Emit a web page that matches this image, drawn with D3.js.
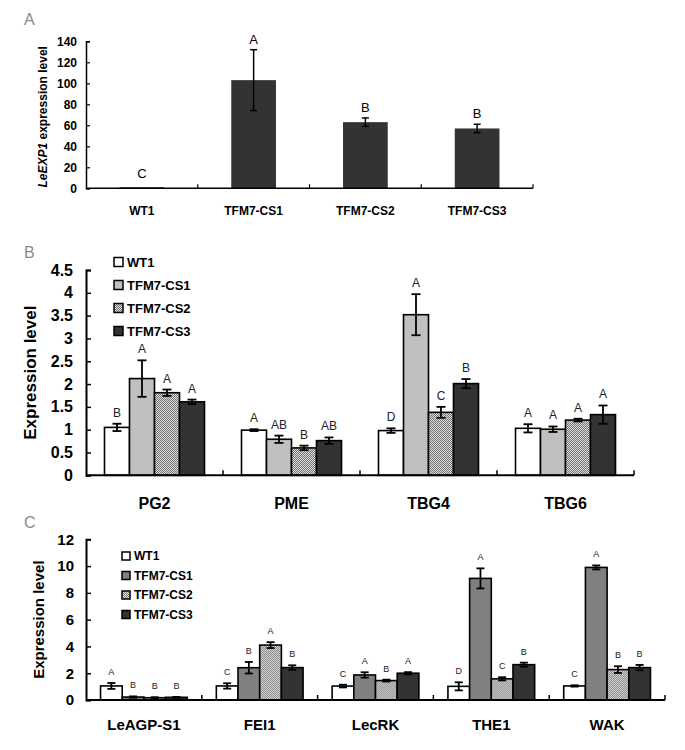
<!DOCTYPE html>
<html><head><meta charset="utf-8">
<script src="https://cdn.jsdelivr.net/npm/d3@7"></script>
<style>
body{margin:0;background:#fff;}
svg{display:block;font-family:"Liberation Sans",Arial,sans-serif;}
</style></head>
<body>
<svg id="chart" width="685" height="750"></svg>
<script>
// ---------- DATA ----------
const seriesNames = ["WT1", "TFM7-CS1", "TFM7-CS2", "TFM7-CS3"];

// Panel A
const catsA = ["WT1", "TFM7-CS1", "TFM7-CS2", "TFM7-CS3"];
const valsA = [1, 103, 63, 57];
const errA = [0.3, 29, 4, 4];
const lettersA = ["C", "A", "B", "B"];
const yTicksA = [0, 20, 40, 60, 80, 100, 120, 140];

// Panel B
const genesB = ["PG2", "PME", "TBG4", "TBG6"];
const valsB = [
  [1.05, 2.12, 1.81, 1.61],
  [0.99, 0.79, 0.60, 0.76],
  [0.98, 3.52, 1.38, 2.01],
  [1.03, 1.01, 1.21, 1.33]
];
const errB = [
  [0.08, 0.40, 0.07, 0.05],
  [0.02, 0.08, 0.05, 0.07],
  [0.05, 0.45, 0.12, 0.10],
  [0.09, 0.06, 0.03, 0.20]
];
const lettersB = [
  ["B", "A", "A", "A"],
  ["A", "AB", "B", "AB"],
  ["D", "A", "C", "B"],
  ["A", "A", "A", "A"]
];
const yTicksB = [0, 0.5, 1, 1.5, 2, 2.5, 3, 3.5, 4, 4.5];
const yTickLabelsB = ["0", "0.5", "1", "1.5", "2", "2.5", "3", "3.5", "4", "4.5"];

// Panel C
const genesC = ["LeAGP-S1", "FEI1", "LecRK", "THE1", "WAK"];
const valsC = [
  [1.05, 0.22, 0.17, 0.20],
  [1.05, 2.41, 4.10, 2.42],
  [1.04, 1.87, 1.45, 2.00],
  [1.02, 9.08, 1.58, 2.64],
  [1.05, 9.90, 2.27, 2.42]
];
const errC = [
  [0.22, 0.05, 0.04, 0.03],
  [0.20, 0.43, 0.22, 0.17],
  [0.10, 0.20, 0.07, 0.08],
  [0.30, 0.75, 0.12, 0.15],
  [0.05, 0.15, 0.25, 0.20]
];
const lettersC = [
  ["A", "B", "B", "B"],
  ["C", "B", "A", "B"],
  ["C", "A", "B", "A"],
  ["D", "A", "C", "B"],
  ["C", "A", "B", "B"]
];
const yTicksC = [0, 2, 4, 6, 8, 10, 12];

// ---------- DRAW ----------
const svg = d3.select("#chart");
const defs = svg.append("defs");
function makePattern(id, light, dark) {
  const p = defs.append("pattern").attr("id", id).attr("width", 2).attr("height", 2)
    .attr("patternUnits", "userSpaceOnUse");
  p.append("rect").attr("width", 2).attr("height", 2).attr("fill", light);
  p.append("rect").attr("x", 0).attr("y", 0).attr("width", 1).attr("height", 1).attr("fill", dark);
  p.append("rect").attr("x", 1).attr("y", 1).attr("width", 1).attr("height", 1).attr("fill", dark);
}
makePattern("hatchB", "#e2e2e2", "#6e6e6e");
makePattern("hatchC", "#e4e4e4", "#7a7a7a");

const fillsB = ["#ffffff", "#c0c0c0", "url(#hatchB)", "#333333"];
const fillsC = ["#ffffff", "#808080", "url(#hatchC)", "#333333"];

function panelLabel(t, x, y) {
  svg.append("text").attr("x", x).attr("y", y).text(t)
    .attr("font-size", 16).attr("fill", "#8a8a8a");
}

// ===== Panel A =====
(function () {
  const x0 = 86, x1 = 533, yb = 188.3, yt = 41.3;
  const g = svg.append("g");
  const x = d3.scaleBand().domain(catsA).range([x0, x1]).paddingInner(0.6).paddingOuter(0.3);
  const xc = d3.scaleBand().domain(catsA).range([x0, x1]);
  const y = d3.scaleLinear().domain([0, 140]).range([yb, yt]);

  g.selectAll("rect.bar").data(catsA).join("rect")
    .attr("x", d => x(d)).attr("width", x.bandwidth())
    .attr("y", (d, i) => y(valsA[i])).attr("height", (d, i) => yb - y(valsA[i]))
    .attr("fill", "#333");

  catsA.forEach((c, i) => {
    const cx = x(c) + x.bandwidth() / 2;
    if (errA[i] > 1) {
      const t = y(valsA[i] + errA[i]), b = y(valsA[i] - errA[i]);
      g.append("line").attr("x1", cx).attr("x2", cx).attr("y1", t).attr("y2", b).attr("stroke", "#000").attr("stroke-width", 1.5);
      g.append("line").attr("x1", cx - 3.5).attr("x2", cx + 3.5).attr("y1", t).attr("y2", t).attr("stroke", "#000").attr("stroke-width", 1.5);
      g.append("line").attr("x1", cx - 3.5).attr("x2", cx + 3.5).attr("y1", b).attr("y2", b).attr("stroke", "#000").attr("stroke-width", 1.5);
    }
    const top = y(valsA[i] + errA[i]);
    g.append("text").attr("x", cx).attr("y", top - (errA[i] > 1 ? 6 : 9)).attr("text-anchor", "middle")
      .attr("font-size", 13).text(lettersA[i]);
    g.append("text").attr("x", cx).attr("y", 215).attr("text-anchor", "middle")
      .attr("font-size", 12).attr("font-weight", "bold").text(c);
  });

  const ya = g.append("g").attr("transform", `translate(${x0},0)`)
    .call(d3.axisLeft(y).tickValues(yTicksA).tickSize(-4).tickPadding(9));
  ya.select(".domain").attr("stroke", "#000").attr("stroke-width", 1.5);
  ya.selectAll(".tick line").attr("stroke", "#000").attr("stroke-width", 1.2);
  ya.selectAll(".tick text").attr("font-size", 12).attr("font-weight", "bold").attr("font-family", "Liberation Sans, Arial").attr("fill", "#000");
  g.append("line").attr("x1", x0).attr("x2", x1).attr("y1", yb).attr("y2", yb).attr("stroke", "#000").attr("stroke-width", 1.5);
  catsA.forEach(c => {
    const tx = xc(c) + xc.bandwidth();
    g.append("line").attr("x1", tx).attr("x2", tx).attr("y1", yb).attr("y2", yb - 4).attr("stroke", "#000").attr("stroke-width", 1.2);
  });
  const yt2 = g.append("text").attr("transform", `translate(47,${(yb + yt) / 2 + 2}) rotate(-90)`)
    .attr("text-anchor", "middle").attr("font-size", 12).attr("font-weight", "bold");
  yt2.append("tspan").attr("font-style", "italic").text("LeEXP1");
  yt2.append("tspan").text(" expression level");
  panelLabel("A", 24, 25);
})();

// ===== Grouped panels =====
function groupedPanel(opt) {
  const { genes, vals, errs, letters, x0, x1, yb, yt, ymax, ticks, tickLabels, fills,
    po, tickFont, tickPad, xLabFont, xLabY, titleFont, titleX, letterFont, letterOff, cap, legend } = opt;
  const g = svg.append("g");
  const x = d3.scaleBand().domain(genes).range([x0, x1]);
  const xs = d3.scaleBand().domain(seriesNames).range([0, x.bandwidth()]).paddingInner(0).paddingOuter(po);
  const y = d3.scaleLinear().domain([0, ymax]).range([yb, yt]);

  genes.forEach((gene, gi) => {
    const gg = g.append("g").attr("transform", `translate(${x(gene)},0)`);
    gg.selectAll("rect").data(seriesNames).join("rect")
      .attr("x", d => xs(d)).attr("width", xs.bandwidth())
      .attr("y", (d, i) => y(vals[gi][i])).attr("height", (d, i) => yb - y(vals[gi][i]))
      .attr("fill", (d, i) => fills[i]).attr("stroke", "#000").attr("stroke-width", 1.6);
    seriesNames.forEach((s, i) => {
      const cx = xs(s) + xs.bandwidth() / 2;
      const t = y(vals[gi][i] + errs[gi][i]), b = y(vals[gi][i] - errs[gi][i]);
      gg.append("line").attr("x1", cx).attr("x2", cx).attr("y1", t).attr("y2", b).attr("stroke", "#000").attr("stroke-width", 1.8);
      gg.append("line").attr("x1", cx - cap).attr("x2", cx + cap).attr("y1", t).attr("y2", t).attr("stroke", "#000").attr("stroke-width", 1.8);
      gg.append("line").attr("x1", cx - cap).attr("x2", cx + cap).attr("y1", b).attr("y2", b).attr("stroke", "#000").attr("stroke-width", 1.8);
      gg.append("text").attr("x", cx).attr("y", t - letterOff).attr("text-anchor", "middle")
        .attr("font-size", letterFont).attr("fill", "#222").text(letters[gi][i]);
    });
    g.append("text").attr("x", x(gene) + x.bandwidth() / 2).attr("y", xLabY).attr("text-anchor", "middle")
      .attr("font-size", xLabFont).attr("font-weight", "bold").text(gene);
  });

  const ya = g.append("g").attr("transform", `translate(${x0},0)`)
    .call(d3.axisLeft(y).tickValues(ticks).tickFormat((d, i) => tickLabels ? tickLabels[i] : d).tickSize(-5).tickPadding(tickPad));
  ya.select(".domain").attr("stroke", "#000").attr("stroke-width", 2);
  ya.selectAll(".tick line").attr("stroke", "#000").attr("stroke-width", 1.5);
  ya.selectAll(".tick text").attr("font-size", tickFont).attr("font-weight", "bold").attr("font-family", "Liberation Sans, Arial").attr("fill", "#000");
  g.append("line").attr("x1", x0).attr("x2", x1).attr("y1", yb).attr("y2", yb).attr("stroke", "#000").attr("stroke-width", 2);
  genes.forEach(gn => {
    const tx = x(gn) + x.bandwidth();
    g.append("line").attr("x1", tx).attr("x2", tx).attr("y1", yb).attr("y2", yb - 5).attr("stroke", "#000").attr("stroke-width", 1.5);
  });
  g.append("text").attr("transform", `translate(${titleX},${(yb + yt) / 2}) rotate(-90)`)
    .attr("text-anchor", "middle").attr("font-size", titleFont).attr("font-weight", "bold").text("Expression level");

  seriesNames.forEach((s, i) => {
    const ly = legend.y + i * legend.dy;
    g.append("rect").attr("x", legend.x).attr("y", ly - legend.sq / 2).attr("width", legend.sq).attr("height", legend.sq)
      .attr("fill", fills[i]).attr("stroke", "#000").attr("stroke-width", 1.5);
    g.append("text").attr("x", legend.x + legend.sq + 4).attr("y", ly + legend.font * 0.36)
      .attr("font-size", legend.font).attr("font-weight", "bold").text(s);
  });
}

groupedPanel({
  genes: genesB, vals: valsB, errs: errB, letters: lettersB,
  x0: 86, x1: 634, yb: 475.3, yt: 270, ymax: 4.5, ticks: yTicksB, tickLabels: yTickLabelsB, fills: fillsB,
  po: 0.74, tickFont: 16, tickPad: 13, xLabFont: 16, xLabY: 509, titleFont: 17, titleX: 36,
  letterFont: 12, letterOff: 7, cap: 4.5,
  legend: { x: 114, y: 262, dy: 23, sq: 9, font: 13 }
});
panelLabel("B", 24, 258);

groupedPanel({
  genes: genesC, vals: valsC, errs: errC, letters: lettersC,
  x0: 86, x1: 665, yb: 700, yt: 539.3, ymax: 12, ticks: yTicksC, tickLabels: null, fills: fillsC,
  po: 0.67, tickFont: 15, tickPad: 12, xLabFont: 15, xLabY: 730, titleFont: 15, titleX: 44,
  letterFont: 9, letterOff: 8, cap: 4,
  legend: { x: 122, y: 556, dy: 19.5, sq: 8, font: 12 }
});
panelLabel("C", 24, 528);
</script>
</body></html>
